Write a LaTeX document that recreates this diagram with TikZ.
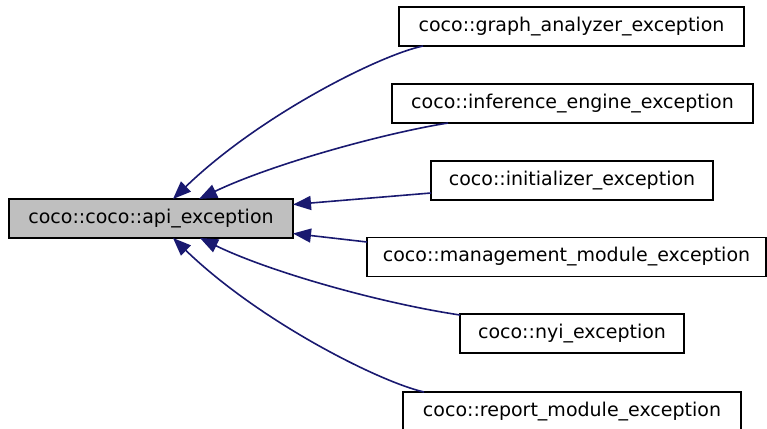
\documentclass[tikz,border=0pt]{standalone}
\usepackage{fontspec}
\setmainfont{DejaVu Sans}
\usetikzlibrary{arrows.meta}
\definecolor{edgeblue}{HTML}{191970}
\definecolor{basegray}{HTML}{BFBFBF}
\tikzset{
  cls/.style={draw=black, line width=1.4pt, fill=white, minimum height=39pt,
    inner sep=0pt, font=\fontsize{19}{22}\selectfont},
  inherit/.style={draw=edgeblue, line width=1.6pt,
    -{Triangle[length=18pt,width=14pt]}, fill=none}
}
\begin{document}
\begin{tikzpicture}[x=1pt,y=-1pt]
\useasboundingbox (0,0) rectangle (767,428);
\clip (0,0) rectangle (767,428);
% classes
\node[cls, fill=basegray, minimum width=284pt] (base) at (151,218.5) {coco::coco::api\_exception};
\node[cls, minimum width=345pt] (ga) at (571.5,26.5) {coco::graph\_analyzer\_exception};
\node[cls, minimum width=361pt] (ie) at (572.5,103.5) {coco::inference\_engine\_exception};
\node[cls, minimum width=282pt] (in) at (572,180.5) {coco::initializer\_exception};
\node[cls, minimum width=399pt] (mm) at (566.5,257) {coco::management\_module\_exception};
\node[cls, minimum width=224pt] (nyi) at (572,333.5) {coco::nyi\_exception};
\node[cls, minimum width=338pt] (rm) at (572,411.5) {coco::report\_module\_exception};
% attachment points on the borders
\coordinate (b1) at (173,199);
\coordinate (b2) at (199,199);
\coordinate (b3) at (293,204.5);
\coordinate (b4) at (293,233.5);
\coordinate (b5) at (200,238);
\coordinate (b6) at (173,238);
\coordinate (s1) at (423,46);
\coordinate (s2) at (448,123);
\coordinate (s3) at (431,193);
\coordinate (s4) at (367,242);
\coordinate (s5) at (460,315);
\coordinate (s6) at (424,392);
% inheritance edges
\draw[inherit] (s1) .. controls (380,55) and (260,115) .. (b1);
\draw[inherit] (s2) .. controls (380,134) and (270,165) .. (b2);
\draw[inherit] (s3) -- (b3);
\draw[inherit] (s4) -- (b4);
\draw[inherit] (s5) .. controls (380,303) and (270,272) .. (b5);
\draw[inherit] (s6) .. controls (380,382) and (260,322) .. (b6);
\end{tikzpicture}
\end{document}
